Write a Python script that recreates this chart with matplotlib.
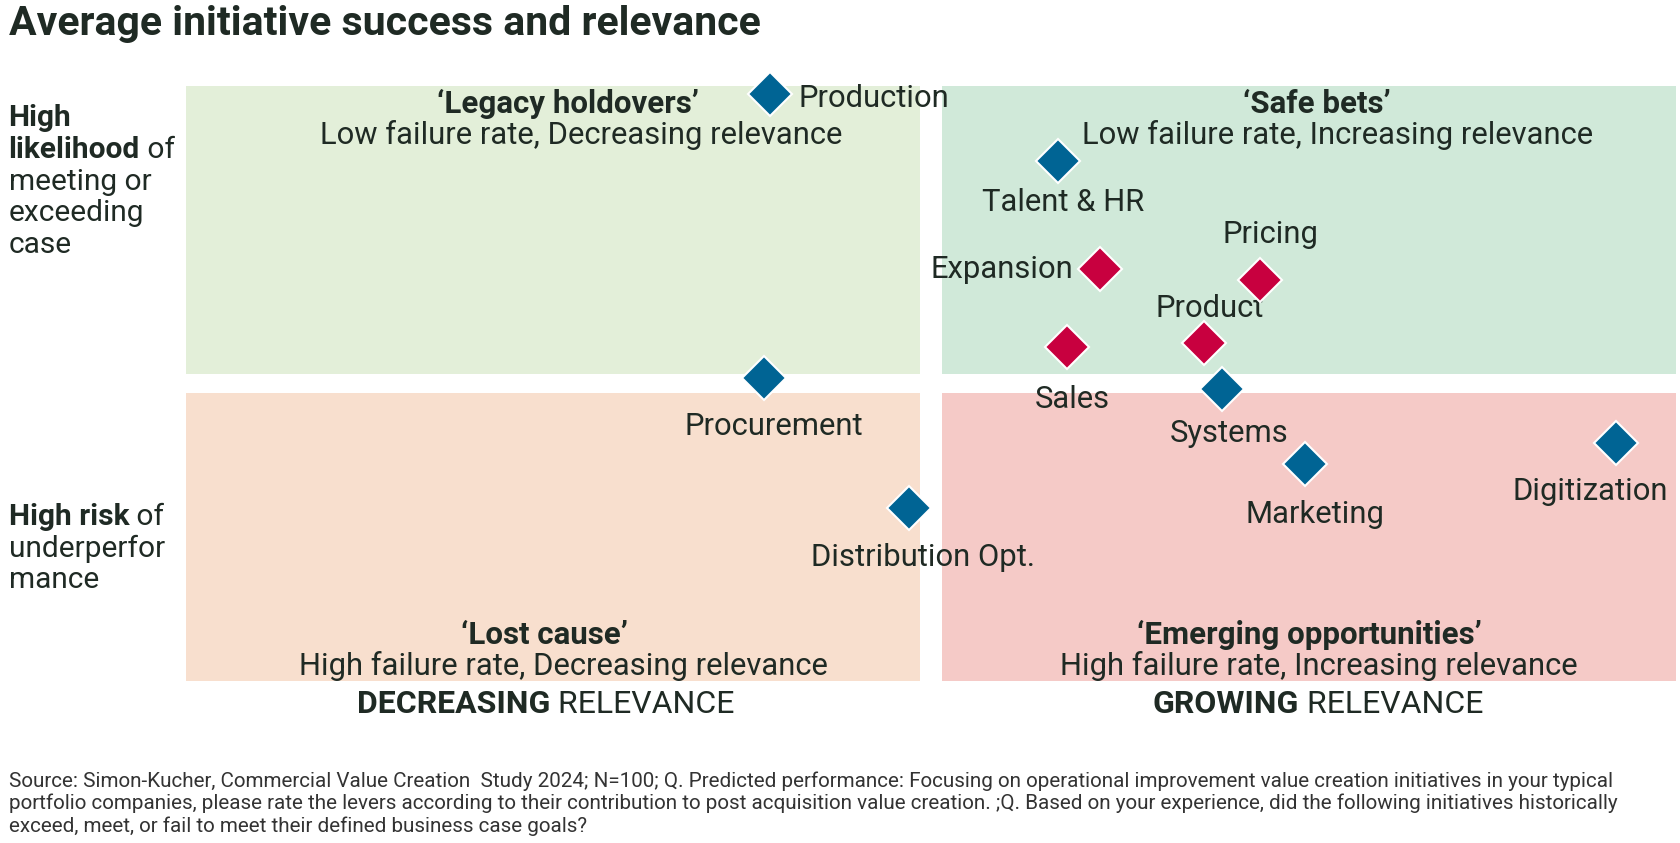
import matplotlib
matplotlib.use('Agg')
import matplotlib.pyplot as plt

plt.rcParams['font.family'] = ['Roboto', 'DejaVu Sans']

# initiatives: relevance (x) vs likelihood of success (y), 0-10 scale
names = ['Production', 'Talent & HR', 'Expansion', 'Pricing', 'Sales', 'Product',
         'Procurement', 'Systems', 'Marketing', 'Digitization', 'Distribution Opt.']
relevance = [3.92, 5.85, 6.13, 7.21, 5.91, 6.83, 3.88, 6.95, 7.51, 9.60, 4.85]
success = [9.86, 8.74, 6.92, 6.74, 5.62, 5.68, 5.10, 4.90, 3.64, 4.00, 2.90]
group = ['blue', 'blue', 'red', 'red', 'red', 'red', 'blue', 'blue', 'blue', 'blue', 'blue']

quad_titles = ["\u2018Legacy holdovers\u2019", "\u2018Safe bets\u2019",
               "\u2018Lost cause\u2019", "\u2018Emerging opportunities\u2019"]
quad_subs = ["Low failure rate, Decreasing relevance", "Low failure rate, Increasing relevance",
             "High failure rate, Decreasing relevance", "High failure rate, Increasing relevance"]

source = ("Source: Simon-Kucher, Commercial Value Creation  Study 2024; N=100; Q. Predicted performance: "
          "Focusing on operational improvement value creation initiatives in your typical\n"
          "portfolio companies, please rate the levers according to their contribution to post acquisition "
          "value creation. ;Q. Based on your experience, did the following initiatives historically\n"
          "exceed, meet, or fail to meet their defined business case goals?")

# label offsets in points (dx, dy, ha)
label_pos = {
    'Production': (20, -3, 'left'),
    'Talent & HR': (4, -30, 'center'),
    'Expansion': (-19, 0, 'right'),
    'Pricing': (7, 33, 'center'),
    'Product': (4, 25, 'center'),
    'Sales': (4, -38, 'center'),
    'Procurement': (7, -35, 'center'),
    'Systems': (5, -32, 'center'),
    'Marketing': (7, -36, 'center'),
    'Digitization': (-19, -35, 'center'),
    'Distribution Opt.': (10, -35, 'center'),
}

colors = {'blue': '#006494', 'red': '#C8003F'}
quad_colors = ['#E3EFD9', '#D0E9D9', '#F8DFCE', '#F5CAC7']
txt = '#1F2A24'

W, H = 1681, 843
fig = plt.figure(figsize=(W / 100, H / 100), dpi=100)
fig.patch.set_facecolor('white')


def fx(px):
    return px / W


def fy(py):
    return 1 - py / H


ax = fig.add_axes([fx(186.5), fy(681), fx(1676) - fx(186.5), fy(86) - fy(681)])
ax.set_xlim(0, 10)
ax.set_ylim(0, 10)
ax.axis('off')

gx, gy = 0.075, 0.155
rects = [(0, 5 + gy, 5 - gx, 5 - gy), (5 + gx, 5 + gy, 5 - gx, 5 - gy),
         (0, 0, 5 - gx, 5 - gy), (5 + gx, 0, 5 - gx, 5 - gy)]
for (x0, y0, w, h), c in zip(rects, quad_colors):
    ax.add_patch(plt.Rectangle((x0, y0), w, h, facecolor=c, edgecolor='none', zorder=0))

title_x = [2.56, 7.59, 2.40, 7.54]
sub_x = [2.65, 7.73, 2.53, 7.60]
title_y = [9.70, 9.70, 0.78, 0.78]
sub_y = [9.18, 9.18, 0.26, 0.26]
for i in range(4):
    ax.text(title_x[i], title_y[i], quad_titles[i], ha='center', va='center',
            fontsize=22.5, fontweight='bold', color=txt)
    ax.text(sub_x[i], sub_y[i], quad_subs[i], ha='center', va='center',
            fontsize=22.3, color=txt)

for n, x, y, g in zip(names, relevance, success, group):
    ax.plot(x, y, marker='D', markersize=22, color=colors[g], markeredgecolor='white',
            markeredgewidth=1.5, linestyle='none', clip_on=False, zorder=3)
    dx, dy, ha = label_pos[n]
    ax.annotate(n, (x, y), xytext=(dx, dy), textcoords='offset points', ha=ha, va='center',
                fontsize=22.3, color=txt, zorder=2)

# title
fig.text(fx(8.6), fy(24), 'Average initiative success and relevance', fontsize=29.5,
         fontweight='bold', color=txt, ha='left', va='center')


def chain(x, y, parts, size):
    t = fig.text(x, y, parts[0][0], fontsize=size, fontweight=parts[0][1], color=txt,
                 ha='left', va='baseline')
    for s, w in parts[1:]:
        t = fig.add_artist(plt.Annotation(s, xy=(1, 0), xycoords=t, fontsize=size, fontweight=w,
                                          color=txt, ha='left', va='bottom'))
    return t


# y-axis descriptions
left_lines = [
    (126, [('High', 'bold')]),
    (158, [('likelihood', 'bold'), (' of', 'normal')]),
    (190, [('meeting or', 'normal')]),
    (221, [('exceeding', 'normal')]),
    (253, [('case', 'normal')]),
    (525, [('High risk', 'bold'), (' of', 'normal')]),
    (557, [('underperfor', 'normal')]),
    (588, [('mance', 'normal')]),
]
for py, parts in left_lines:
    chain(fx(8.6), fy(py), parts, 21.5)

# x-axis descriptions
chain(fx(357), fy(713), [('DECREASING', 'bold'), (' RELEVANCE', 'normal')], 23)
chain(fx(1152.5), fy(713), [('GROWING', 'bold'), (' RELEVANCE', 'normal')], 23)

fig.text(fx(8.6), fy(771), source, fontsize=14.9, color='#333333', ha='left', va='top',
         linespacing=1.2)

fig.savefig('out.png', dpi=100)
